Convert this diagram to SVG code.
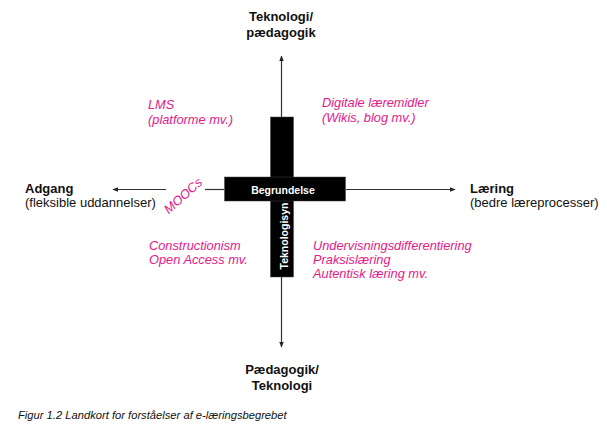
<svg xmlns="http://www.w3.org/2000/svg" width="607" height="430" viewBox="0 0 607 430">
<style>
.lbl{font-family:"Liberation Sans",Arial,sans-serif;font-size:13px;fill:#111}
.b{font-weight:bold}
.pk{font-family:"Liberation Sans",Arial,sans-serif;font-size:12.8px;font-style:italic;fill:#e6198a}
.w{font-family:"Liberation Sans",Arial,sans-serif;font-size:10.5px;font-weight:bold;fill:#fff}
.ax{stroke:#333;stroke-width:1.2;fill:none}
.cap{font-family:"Liberation Sans",Arial,sans-serif;font-size:11.2px;font-style:italic;fill:#111}
</style>
<defs>
<marker id="ah" viewBox="0 0 10 10" refX="9" refY="5" markerWidth="6" markerHeight="6" orient="auto" markerUnits="userSpaceOnUse">
<path d="M0,1 L10,5 L0,9 Z" fill="#222"/>
</marker>
</defs>
<rect width="607" height="430" fill="#fff"/>
<g id="connectors">
<line class="ax" x1="281.5" y1="117" x2="281.5" y2="56" marker-end="url(#ah)"/>
<line class="ax" x1="281.5" y1="276" x2="281.5" y2="347" marker-end="url(#ah)"/>
<line class="ax" x1="346" y1="189.5" x2="455" y2="189.5" marker-end="url(#ah)"/>
<line class="ax" x1="224" y1="189.5" x2="205" y2="189.5"/>
<line class="ax" x1="166" y1="189.5" x2="113" y2="189.5" marker-end="url(#ah)"/>
</g>
<g id="cross">
<rect x="270.5" y="117" width="23" height="160" fill="#000" stroke="#444" stroke-width="0.5"/>
<rect x="224.5" y="177" width="121" height="24" fill="#000" stroke="#444" stroke-width="0.5"/>
<text class="w" x="283" y="193.5" text-anchor="middle">Begrundelse</text>
<text class="w" transform="translate(288,236) rotate(-90)" text-anchor="middle">Teknologisyn</text>
</g>
<g id="top">
<text class="lbl b" x="281" y="21" text-anchor="middle">Teknologi/</text>
<text class="lbl b" x="281" y="37" text-anchor="middle">pædagogik</text>
</g>
<g id="bottom">
<text class="lbl b" x="282" y="374" text-anchor="middle">Pædagogik/</text>
<text class="lbl b" x="282" y="390" text-anchor="middle">Teknologi</text>
</g>
<g id="left">
<text class="lbl b" x="25" y="193">Adgang</text>
<text class="lbl" x="25" y="207">(fleksible uddannelser)</text>
</g>
<g id="right">
<text class="lbl b" x="470" y="193">Læring</text>
<text class="lbl" x="470" y="207">(bedre læreprocesser)</text>
</g>
<g id="moocs">
<text class="pk" transform="translate(186,199) rotate(-42)" text-anchor="middle">MOOCs</text>
</g>
<g id="lms">
<text class="pk" x="148" y="109">LMS</text>
<text class="pk" x="148" y="124">(platforme mv.)</text>
</g>
<g id="digitale">
<text class="pk" x="322" y="107">Digitale læremidler</text>
<text class="pk" x="322" y="122">(Wikis, blog mv.)</text>
</g>
<g id="construction">
<text class="pk" x="149" y="250">Constructionism</text>
<text class="pk" x="149" y="264">Open Access mv.</text>
</g>
<g id="undervisning">
<text class="pk" x="313" y="250">Undervisningsdifferentiering</text>
<text class="pk" x="313" y="264">Praksislæring</text>
<text class="pk" x="313" y="278">Autentisk læring mv.</text>
</g>
<text class="cap" x="18" y="419">Figur 1.2 Landkort for forståelser af e-læringsbegrebet</text>
</svg>
